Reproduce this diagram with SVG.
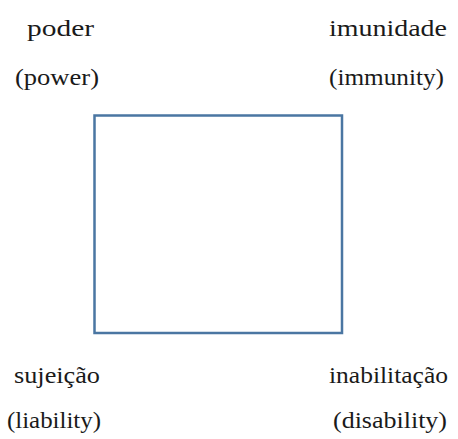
<svg xmlns="http://www.w3.org/2000/svg" width="458" height="439" viewBox="0 0 458 439">
<style>
text{font-family:"Liberation Serif","Times New Roman",serif;font-size:24px;fill:#1a1a1a}
.box{fill:#ffffff;stroke:#4a76a2;stroke-width:2.5}
</style>
<rect width="458" height="439" fill="#ffffff"/>
<g id="connectors">
<rect class="box" x="94.5" y="115.5" width="247.5" height="217.5"/>
</g>
<g id="node-poder">
<text x="27" y="36" textLength="67" lengthAdjust="spacingAndGlyphs">poder</text>
<text x="15" y="85" textLength="84" lengthAdjust="spacingAndGlyphs">(power)</text>
</g>
<g id="node-imunidade">
<text x="329" y="36" textLength="118" lengthAdjust="spacingAndGlyphs">imunidade</text>
<text x="329" y="85" textLength="115" lengthAdjust="spacingAndGlyphs">(immunity)</text>
</g>
<g id="node-sujeicao">
<text x="14" y="383" textLength="86" lengthAdjust="spacingAndGlyphs">sujeição</text>
<text x="7" y="428" textLength="94" lengthAdjust="spacingAndGlyphs">(liability)</text>
</g>
<g id="node-inabilitacao">
<text x="329" y="383" textLength="119" lengthAdjust="spacingAndGlyphs">inabilitação</text>
<text x="333" y="428" textLength="114" lengthAdjust="spacingAndGlyphs">(disability)</text>
</g>
</svg>
